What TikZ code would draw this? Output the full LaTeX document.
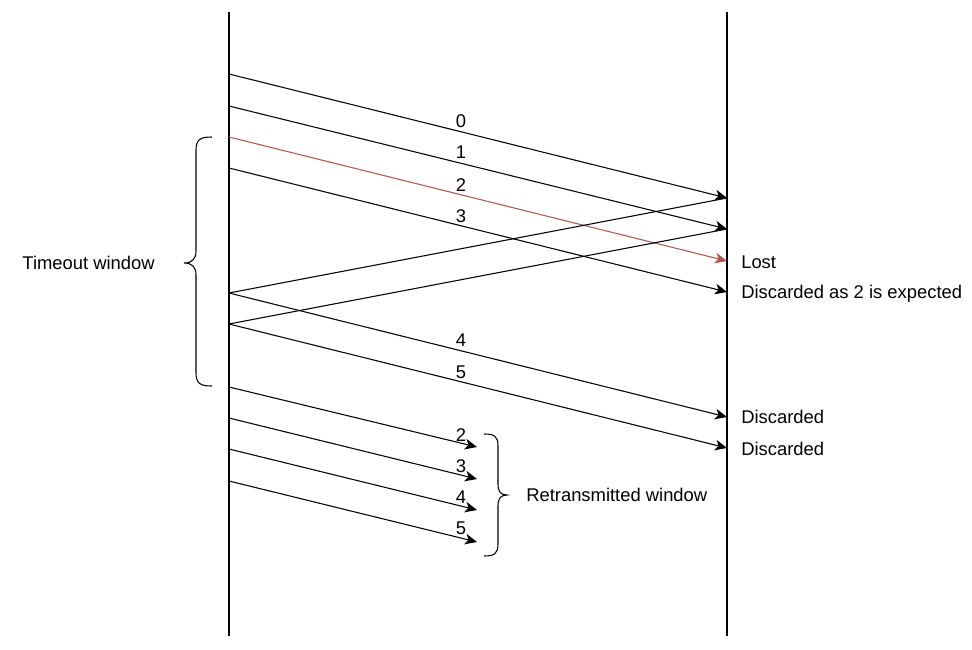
\documentclass[tikz,border=0pt]{standalone}
\usepackage{fontspec}
\setmainfont{Liberation Sans}
\usetikzlibrary{arrows.meta}

\definecolor{lostred}{RGB}{184,84,80}

\tikzset{
  lifeline/.style={draw=black, line width=0.8pt},
  msg/.style={draw=black, line width=0.8pt, -{Stealth[length=9pt,width=8pt,inset=2.5pt]}},
  lostmsg/.style={msg, draw=lostred},
  ackline/.style={draw=black, line width=0.8pt},
  numlbl/.style={inner sep=0pt, font=\fontsize{13.8}{16}\selectfont},
  txtlbl/.style={inner sep=1.5pt, font=\fontsize{13.8}{16}\selectfont},
  bracket/.style={draw=black, line width=0.8pt}
}

\begin{document}
\begin{tikzpicture}[x=0.75pt,y=0.75pt,yscale=-1,xscale=1]
    \useasboundingbox (0,0) rectangle (972,650);

    % Lifelines
    \coordinate (stop) at (229,12);
    \coordinate (sbot) at (229,636);
    \coordinate (rtop) at (727,12);
    \coordinate (rbot) at (727,636);
    \draw[lifeline] (stop) -- (sbot);
    \draw[lifeline] (rtop) -- (rbot);

    % Sender side points
    \coordinate (s0) at (229,74);
    \coordinate (s1) at (229,106);
    \coordinate (s2) at (229,137);
    \coordinate (s3) at (229,168);
    \coordinate (s4) at (229,293);
    \coordinate (s5) at (229,324);
    % Receiver side points
    \coordinate (r0) at (727,198);
    \coordinate (r1) at (727,229);
    \coordinate (r2) at (727,261);
    \coordinate (r3) at (727,292);
    \coordinate (r4) at (727,417);
    \coordinate (r5) at (727,448);
    % Retransmission points
    \coordinate (t2) at (229,387);
    \coordinate (t3) at (229,418);
    \coordinate (t4) at (229,449);
    \coordinate (t5) at (229,481);
    \coordinate (u2) at (477,447);
    \coordinate (u3) at (477,479);
    \coordinate (u4) at (477,510);
    \coordinate (u5) at (477,542);

    % First window
    \draw[msg] (s0) -- (r0);
    \draw[msg] (s1) -- (r1);
    \draw[lostmsg] (s2) -- (r2);
    \draw[msg] (s3) -- (r3);
    % Crossing lines
    \draw[ackline] (s4) -- (r0);
    \draw[ackline] (s5) -- (r1);
    % Next frames
    \draw[msg] (s4) -- (r4);
    \draw[msg] (s5) -- (r5);
    % Retransmitted frames
    \draw[msg] (t2) -- (u2);
    \draw[msg] (t3) -- (u3);
    \draw[msg] (t4) -- (u4);
    \draw[msg] (t5) -- (u5);

    % Frame numbers
    \node[numlbl] (n0) at (461,121) {0};
    \node[numlbl] (n1) at (461,152) {1};
    \node[numlbl] (n2) at (461,185) {2};
    \node[numlbl] (n3) at (461,216) {3};
    \node[numlbl] (n4) at (461,340) {4};
    \node[numlbl] (n5) at (461,372) {5};
    \node[numlbl] (m2) at (461,435) {2};
    \node[numlbl] (m3) at (461,466) {3};
    \node[numlbl] (m4) at (461,497) {4};
    \node[numlbl] (m5) at (461,528) {5};

    % Receiver notes
    \node[txtlbl, anchor=west] (lost) at (739,262) {Lost};
    \node[txtlbl, anchor=west] (disc) at (739,294) {Discarded as 2 is expected};
    \node[txtlbl, anchor=west] (disca) at (739,417) {Discarded};
    \node[txtlbl, anchor=west] (discb) at (739,449) {Discarded};

    % Timeout window brace
    \draw[bracket] (212,137) .. controls (201,137) and (196,139) .. (196,150) -- (196,251)
        .. controls (196,259) and (192,263) .. (184,263)
        .. controls (192,263) and (196,267) .. (196,275) -- (196,373)
        .. controls (196,384) and (201,386) .. (212,386);
    \node[txtlbl, anchor=east] (tout) at (157,263) {Timeout window};

    % Retransmitted window brace
    \draw[bracket] (484,434) .. controls (494,434) and (498,436) .. (498,446) -- (498,484)
        .. controls (498,492) and (501,495) .. (507,495)
        .. controls (501,495) and (498,498) .. (498,506) -- (498,544)
        .. controls (498,554) and (494,556) .. (484,556);
    \node[txtlbl, anchor=west] (rtx) at (524,495) {Retransmitted window};

\end{tikzpicture}
\end{document}
